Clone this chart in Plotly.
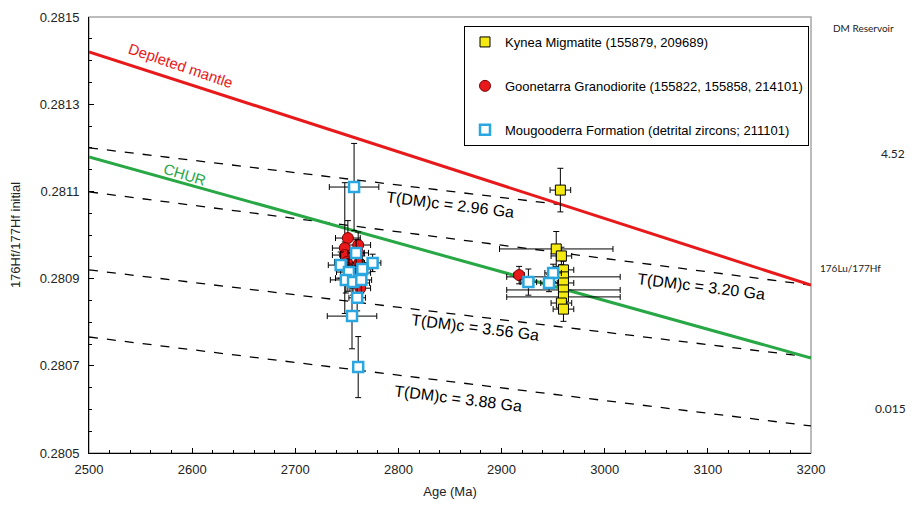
import plotly.graph_objects as go

# ---------------- data ----------------
kynea_age = [2957, 2953, 2958, 2960, 2960, 2960, 2960, 2960, 2958, 2960]
kynea_hf = [0.281103, 0.280968, 0.280952, 0.280920, 0.280904, 0.280890, 0.280874, 0.280858, 0.280844, 0.280830]
kynea_ex = [10, 55, 10, 10, 55, 10, 55, 55, 10, 10]
kynea_ey = [0.00005, 0.00004, 0.00002, 0.00002, 0.00002, 0.00002, 0.00002, 0.00002, 0.00002, 0.000028]

goon_age = [2751, 2761, 2748, 2748, 2761, 2750, 2762, 2751, 2763, 2751, 2762, 2763, 2917]
goon_hf = [0.280993, 0.280977, 0.280970, 0.280954, 0.280959, 0.280938, 0.280936, 0.280924, 0.280913, 0.280901, 0.280890, 0.280878, 0.280908]
goon_ex = [12, 12, 12, 12, 10, 12, 10, 12, 10, 12, 10, 10, 5]
goon_ey = [0.00004, 0.00003, 0.00015, 0.00003, 0.00003, 0.00003, 0.00003, 0.00003, 0.00003, 0.00003, 0.00003, 0.00003, 0.00002]

moug_age = [2757, 2759, 2744, 2775, 2752, 2765, 2749, 2756, 2764, 2760, 2755, 2761, 2926, 2950, 2946]
moug_hf = [0.281110, 0.280959, 0.280931, 0.280936, 0.280915, 0.280922, 0.280897, 0.280892, 0.280897, 0.280856, 0.280814, 0.280697, 0.280892, 0.280913, 0.280890]
moug_ex = [24, 8, 12, 8, 12, 10, 15, 10, 10, 8, 24, 5, 8, 8, 8]
moug_ey = [0.0001, 0.00003, 0.00003, 0.00002, 0.00003, 0.00003, 0.00003, 0.00003, 0.00003, 0.00003, 0.000075, 0.00007, 0.00003, 0.00002, 0.00002]

dm_age = [2500, 3200]
dm_hf = [0.28142, 0.280885]
chur_age = [2500, 3200]
chur_hf = [0.281179, 0.280718]

tdm_labels = ["T(DM)c = 2.96 Ga", "T(DM)c = 3.20 Ga", "T(DM)c = 3.56 Ga", "T(DM)c = 3.88 Ga"]
tdm_age = [[2500, 2960], [2500, 3200], [2500, 3200], [2500, 3200]]
tdm_hf = [[0.2812, 0.281069], [0.281099, 0.280885], [0.28092, 0.28072], [0.280766, 0.280562]]
tdm_label_age = [2850, 3094, 2875, 2858]
tdm_label_hf = [0.281069, 0.280883, 0.280787, 0.280626]

x_ticks = [2500, 2600, 2700, 2800, 2900, 3000, 3100, 3200]
y_ticks = [0.2805, 0.2807, 0.2809, 0.2811, 0.2813, 0.2815]

FONT = "Liberation Sans, Arial, sans-serif"

# target plot area in page pixels; the page body adds an 8px offset
OFF = 8
L, R, T, B = 89, 811, 17, 453
PW, PH = R - L, B - T
FW, FH = 920 - 2 * OFF, 507 - 2 * OFF

fig = go.Figure()

for xs, ys in zip(tdm_age, tdm_hf):
    fig.add_trace(go.Scatter(x=xs, y=ys, mode="lines", showlegend=False,
                             line=dict(color="black", width=1.3, dash="dash"), hoverinfo="skip"))

fig.add_trace(go.Scatter(x=dm_age, y=dm_hf, mode="lines", showlegend=False,
                         line=dict(color="#e8191b", width=3)))
fig.add_trace(go.Scatter(x=chur_age, y=chur_hf, mode="lines", showlegend=False,
                         line=dict(color="#28a745", width=3)))

err_style = dict(color="black", thickness=1, width=3)

fig.add_trace(go.Scatter(
    x=kynea_age, y=kynea_hf, mode="markers", name="Kynea Migmatite (155879, 209689)",
    legendgroup="a",
    error_x=dict(type="data", array=kynea_ex, **err_style),
    error_y=dict(type="data", array=kynea_ey, **err_style),
    marker=dict(symbol="square", size=10, color="#f4ea12", line=dict(color="black", width=1))))

fig.add_trace(go.Scatter(
    x=goon_age, y=goon_hf, mode="markers", name="Goonetarra Granodiorite (155822, 155858, 214101)",
    legendgroup="b",
    error_x=dict(type="data", array=goon_ex, **err_style),
    error_y=dict(type="data", array=goon_ey, **err_style),
    marker=dict(symbol="circle", size=11, color="#e8191b", line=dict(color="#7a0000", width=1))))

fig.add_trace(go.Scatter(
    x=moug_age, y=moug_hf, mode="markers", name="Mougooderra Formation (detrital zircons; 211101)",
    legendgroup="c",
    error_x=dict(type="data", array=moug_ex, **err_style),
    error_y=dict(type="data", array=moug_ey, **err_style),
    marker=dict(symbol="square", size=10, color="white", line=dict(color="#2aa7e0", width=2.5))))

annotations = [
    dict(x=2589, y=0.281388, text="Depleted mantle", textangle=19, font=dict(color="#e8191b", size=15)),
    dict(x=2593, y=0.281138, text="CHUR", textangle=17, font=dict(color="#28a745", size=15)),
]
for lab, ax_, ay_ in zip(tdm_labels, tdm_label_age, tdm_label_hf):
    annotations.append(dict(x=ax_, y=ay_, text=lab, textangle=7, font=dict(color="black", size=16)))
for a in annotations:
    a.update(xref="x", yref="y", showarrow=False, xanchor="center", yanchor="middle")

notes = [("DM Reservoir", 863, 28, 10), ("4.52", 893, 154, 12),
         ("176Lu/177Hf", 850, 268, 10), ("0.015", 890, 408, 12)]
for txt, px, py, fs in notes:
    annotations.append(dict(x=(px - L) / PW, y=(B - py) / PH, text=txt, xref="paper", yref="paper",
                            xanchor="center", yanchor="middle", showarrow=False,
                            font=dict(family="Lato, sans-serif", size=fs, color="#222")))

fig.update_layout(
    width=FW, height=FH,
    margin=dict(l=L - OFF, r=FW - (R - OFF), t=T - OFF, b=FH - (B - OFF), pad=0),
    paper_bgcolor="white", plot_bgcolor="white",
    font=dict(family=FONT, size=13, color="#222"),
    annotations=annotations,
    shapes=[dict(type="rect", xref="paper", yref="paper", x0=0, y0=0, x1=1, y1=1,
                 line=dict(color="#a6a6a6", width=1.5), layer="below")],
    legend=dict(x=(464 - L) / PW, y=(B - 26) / PH, xanchor="left", yanchor="top",
                bordercolor="black", borderwidth=1, bgcolor="white",
                font=dict(size=13, family=FONT, color="black"),
                tracegroupgap=24, itemwidth=30),
    xaxis=dict(range=[2500, 3200], tickvals=x_ticks, showgrid=False, zeroline=False, automargin=False,
               showline=True, linecolor="black", linewidth=1, ticks="inside", ticklen=5,
               tickcolor="black", ticklabelstandoff=4,
               minor=dict(dtick=20, ticks="inside", ticklen=3, tickcolor="black"),
               title=dict(text="Age (Ma)", font=dict(size=13), standoff=12)),
    yaxis=dict(range=[0.2805, 0.2815], tickvals=y_ticks, tickformat=".4f", showgrid=False,
               zeroline=False, showline=True, linecolor="black", linewidth=1, automargin=False,
               ticks="inside", ticklen=5, tickcolor="black", ticklabelstandoff=6,
               minor=dict(dtick=0.00005, ticks="inside", ticklen=3, tickcolor="black"),
               title=dict(text="176Hf/177Hf initial", font=dict(size=13), standoff=18)),
)

fig.write_html("out.html")
